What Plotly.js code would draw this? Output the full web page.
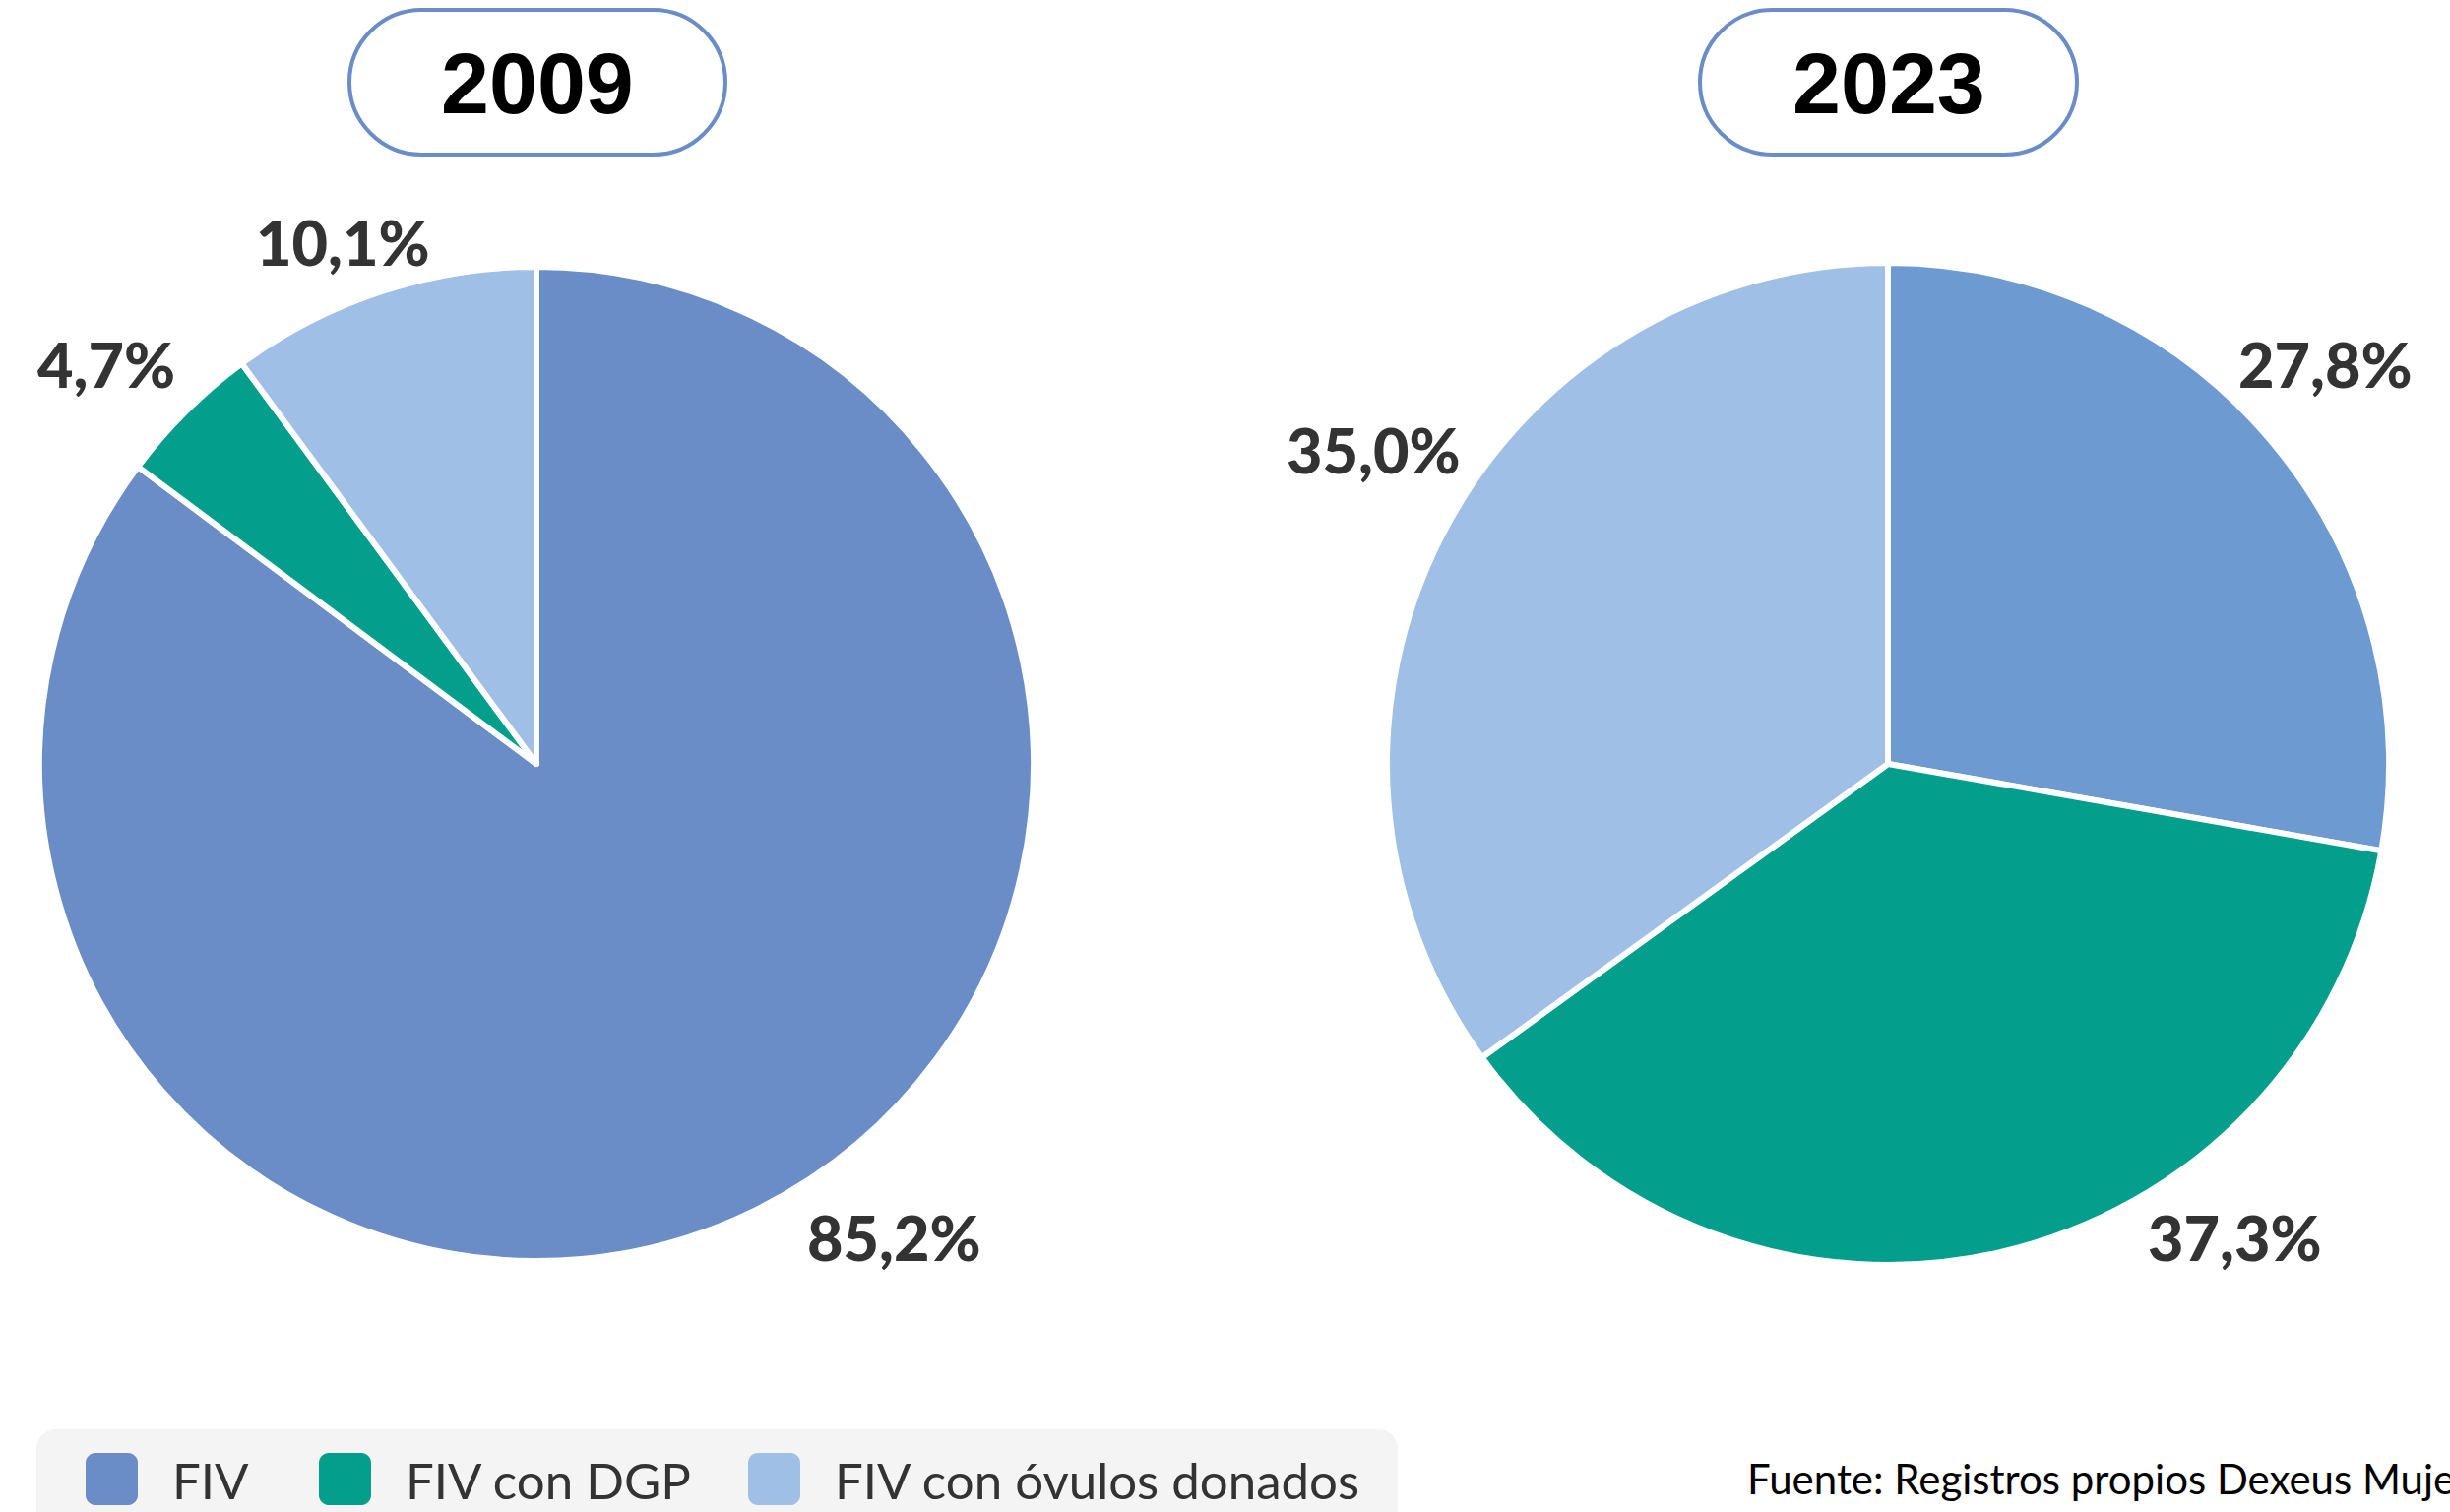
<!DOCTYPE html>
<html>
<head>
<meta charset="utf-8">
<script src="https://cdn.plot.ly/plotly-3.0.1.min.js"></script>
<style>
  html, body { margin: 0; padding: 0; background: #fff; overflow: hidden; }
  #chart { width: 2489px; height: 1536px; }
</style>
</head>
<body>
<div id="chart"></div>
<script>
// Data
const categories = ['FIV', 'FIV con DGP', 'FIV con óvulos donados'];
const years = ['2009', '2023'];
const values2009 = [85.2, 4.7, 10.1];
const values2023 = [27.8, 37.3, 35.0];
const colors2009 = ['#6a8dc7', '#049e8c', '#9fbfe7'];
const colors2023 = ['#6d9bd1', '#049e8c', '#9fbfe7'];
const sourceNote = 'Fuente: Registros propios Dexeus Mujer';

// Page geometry (pixels)
const W = 2489, H = 1536;
const px = x => x / W;
const py = y => 1 - y / H;

// pie centres / radii
const pies = [
    { cx: 545, cy: 776, r: 505, values: values2009, colors: colors2009 },
    { cx: 1918, cy: 776, r: 509, values: values2023, colors: colors2023 }
];

// label positions for each slice (centre of text, pixels)
const labelPos = [
    [[908, 1256], [108, 370], [348, 245]],
    [[2362, 370], [2270, 1256], [1395, 456]]
];

// rounded rectangle path in paper coords
function roundRect(x0, y0, x1, y1, r) {
    const k = 0.5523 * r;
    const p = (x, y) => px(x) + ',' + py(y);
    return 'M' + p(x0 + r, y0) +
        ' L' + p(x1 - r, y0) +
        ' C' + p(x1 - r + k, y0) + ' ' + p(x1, y0 + r - k) + ' ' + p(x1, y0 + r) +
        ' L' + p(x1, y1 - r) +
        ' C' + p(x1, y1 - r + k) + ' ' + p(x1 - r + k, y1) + ' ' + p(x1 - r, y1) +
        ' L' + p(x0 + r, y1) +
        ' C' + p(x0 + r - k, y1) + ' ' + p(x0, y1 - r + k) + ' ' + p(x0, y1 - r) +
        ' L' + p(x0, y0 + r) +
        ' C' + p(x0, y0 + r - k) + ' ' + p(x0 + r - k, y0) + ' ' + p(x0 + r, y0) + ' Z';
}

const fmt = v => v.toFixed(1).replace('.', ',') + '%';

const traces = pies.map(p => ({
    type: 'pie',
    labels: categories,
    values: p.values,
    sort: false,
    direction: 'clockwise',
    rotation: 0,
    textinfo: 'none',
    hoverinfo: 'none',
    showlegend: false,
    marker: { colors: p.colors, line: { color: '#ffffff', width: 6 } },
    domain: {
        x: [px(p.cx - p.r), px(p.cx + p.r)],
        y: [py(p.cy + p.r), py(p.cy - p.r)]
    }
}));

const shapes = [];
const annotations = [];

// year badges
const badges = [[355, 737], [1727, 2110]];
years.forEach((yr, i) => {
    const [x0, x1] = badges[i];
    shapes.push({
        type: 'path', xref: 'paper', yref: 'paper',
        path: roundRect(x0, 10, x1, 157, 73.5),
        fillcolor: '#ffffff',
        line: { color: '#6a8dc7', width: 4 }
    });
    annotations.push({
        xref: 'paper', yref: 'paper',
        x: px((x0 + x1) / 2), y: py(84),
        xanchor: 'center', yanchor: 'middle',
        text: '<b>' + yr + '</b>', showarrow: false,
        font: { family: 'Liberation Sans, Arial, sans-serif', size: 88, color: '#000000' }
    });
});

// percentage labels
pies.forEach((p, i) => {
    p.values.forEach((v, j) => {
        const [lx, ly] = labelPos[i][j];
        annotations.push({
            xref: 'paper', yref: 'paper',
            x: px(lx), y: py(ly),
            xanchor: 'center', yanchor: 'middle',
            text: fmt(v), showarrow: false,
            font: { family: 'Lato, sans-serif', size: 63, weight: 900, color: '#333333' }
        });
    });
});

// legend box
shapes.push({
    type: 'path', xref: 'paper', yref: 'paper',
    path: roundRect(37, 1452, 1420, 1560, 20),
    fillcolor: '#f4f4f4',
    line: { width: 0 }
});
const legendX = [87, 324, 760];
categories.forEach((c, i) => {
    const x0 = legendX[i];
    shapes.push({
        type: 'path', xref: 'paper', yref: 'paper',
        path: roundRect(x0, 1476, x0 + 53, 1529, 10),
        fillcolor: colors2009[i],
        line: { width: 0 }
    });
    annotations.push({
        xref: 'paper', yref: 'paper',
        x: px(x0 + 86), y: py(1503),
        xanchor: 'left', yanchor: 'middle',
        text: c, showarrow: false,
        font: { family: 'Lato, sans-serif', size: 51, color: '#333333' }
    });
});

// source note (runs off the right edge, as in the original)
annotations.push({
    xref: 'paper', yref: 'paper',
    x: px(1773), y: py(1502),
    xanchor: 'left', yanchor: 'middle',
    text: sourceNote, showarrow: false,
    font: { family: 'Lato, sans-serif', size: 42, color: '#000000' }
});

const layout = {
    width: W,
    height: H,
    margin: { t: 0, r: 0, b: 0, l: 0 },
    paper_bgcolor: '#ffffff',
    plot_bgcolor: '#ffffff',
    showlegend: false,
    shapes: shapes,
    annotations: annotations
};

Plotly.newPlot('chart', traces, layout, { displayModeBar: false, staticPlot: true });
</script>
</body>
</html>
